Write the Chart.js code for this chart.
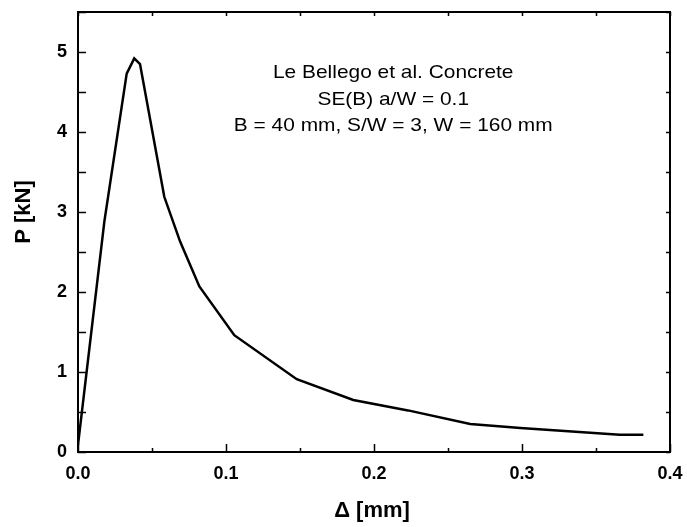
<!DOCTYPE html>
<html>
<head>
<meta charset="utf-8">
<script src="https://cdn.jsdelivr.net/npm/chart.js@4"></script>
<style>
    body { margin: 0; background: #fff; }
    #wrap { width: 687px; height: 527px; }
</style>
</head>
<body>
<div id="wrap"><canvas id="chart" width="687" height="527"></canvas></div>
<script>
// load-displacement curve
const deltaMm = [0.0, 0.0178, 0.0329, 0.0380, 0.0419, 0.0583, 0.0690, 0.0820, 0.1056, 0.1478, 0.1860, 0.2230, 0.2650, 0.2990, 0.3660, 0.3820];
const loadKN = [0.09, 2.88, 4.73, 4.92, 4.85, 3.19, 2.63, 2.07, 1.46, 0.91, 0.65, 0.52, 0.35, 0.30, 0.215, 0.215];

const xTicks = [0.0, 0.1, 0.2, 0.3, 0.4];
const yTicks = [0, 1, 2, 3, 4, 5];
const xTitle = 'Δ [mm]';
const yTitle = 'P [kN]';
const noteLines = ["Le Bellego et al. Concrete", "SE(B) a/W = 0.1", "B = 40 mm, S/W = 3, W = 160 mm"];

const points = deltaMm.map((d, i) => ({ x: d, y: loadKN[i] }));

const FONT = '"Liberation Sans", Arial, sans-serif';

// frame with inward ticks on all four sides, axis titles and annotation
const framePlugin = {
    id: 'frame',
    afterDraw(chart) {
        const ctx = chart.ctx;
        const xs = chart.scales.x;
        const ys = chart.scales.y;
        const a = chart.chartArea;
        ctx.save();
        ctx.strokeStyle = '#000';
        ctx.lineWidth = 2;
        ctx.strokeRect(a.left, a.top, a.right - a.left, a.bottom - a.top);

        ctx.lineWidth = 1.5;
        ctx.beginPath();
        for (let v = 0; v <= 0.4001; v += 0.05) {
            const px = Math.round(xs.getPixelForValue(v)) + 0.5;
            const major = Math.abs(v * 10 - Math.round(v * 10)) < 1e-6;
            const len = major ? 8 : 4;
            ctx.moveTo(px, a.bottom); ctx.lineTo(px, a.bottom - len);
            ctx.moveTo(px, a.top); ctx.lineTo(px, a.top + 4);
        }
        for (let v = 0; v <= 5.5001; v += 0.5) {
            const py = Math.round(ys.getPixelForValue(v)) + 0.5;
            ctx.moveTo(a.left, py); ctx.lineTo(a.left + 8, py);
            ctx.moveTo(a.right, py); ctx.lineTo(a.right - 4, py);
        }
        ctx.stroke();

        ctx.fillStyle = '#000';
        ctx.textAlign = 'center';
        ctx.textBaseline = 'middle';

        // axis titles
        ctx.font = 'bold 22px ' + FONT;
        ctx.fillText(xTitle, 372, 511);
        ctx.save();
        ctx.translate(24, 212);
        ctx.rotate(-Math.PI / 2);
        ctx.fillText(yTitle, 0, 0);
        ctx.restore();

        // annotation text (slightly wide face, like the original)
        ctx.font = '19px ' + FONT;
        const cx = xs.getPixelForValue(0.213);
        noteLines.forEach((t, i) => {
            const cy = ys.getPixelForValue(4.74) + i * 26.5;
            ctx.save();
            ctx.translate(cx, cy);
            ctx.scale(1.1, 1);
            ctx.fillText(t, 0, 0);
            ctx.restore();
        });
        ctx.restore();
    }
};

new Chart(document.getElementById('chart'), {
    type: 'line',
    data: {
        datasets: [{
            data: points,
            borderColor: '#000',
            borderWidth: 2.5,
            pointRadius: 0,
            fill: false,
            tension: 0
        }]
    },
    options: {
        responsive: false,
        animation: false,
        layout: { padding: { top: 12, right: 17, left: 0, bottom: 0 } },
        plugins: { legend: { display: false }, tooltip: { enabled: false } },
        scales: {
            x: {
                type: 'linear',
                min: 0,
                max: 0.4,
                afterFit: s => { s.height = 75; s.paddingLeft = 0; s.paddingRight = 0; },
                afterBuildTicks: s => { s.ticks = xTicks.map(v => ({ value: v })); },
                grid: { display: false, drawTicks: false },
                border: { display: false },
                ticks: {
                    padding: 11,
                    color: '#000',
                    font: { family: FONT, size: 18, weight: 'bold' },
                    callback: v => v.toFixed(1)
                }
            },
            y: {
                type: 'linear',
                min: 0,
                max: 5.5,
                afterFit: s => { s.width = 78; s.paddingTop = 0; s.paddingBottom = 0; },
                afterBuildTicks: s => { s.ticks = yTicks.map(v => ({ value: v })); },
                grid: { display: false, drawTicks: false },
                border: { display: false },
                ticks: {
                    padding: 11,
                    color: '#000',
                    font: { family: FONT, size: 18, weight: 'bold' },
                    callback: v => String(v)
                }
            }
        }
    },
    plugins: [framePlugin]
});
</script>
</body>
</html>
